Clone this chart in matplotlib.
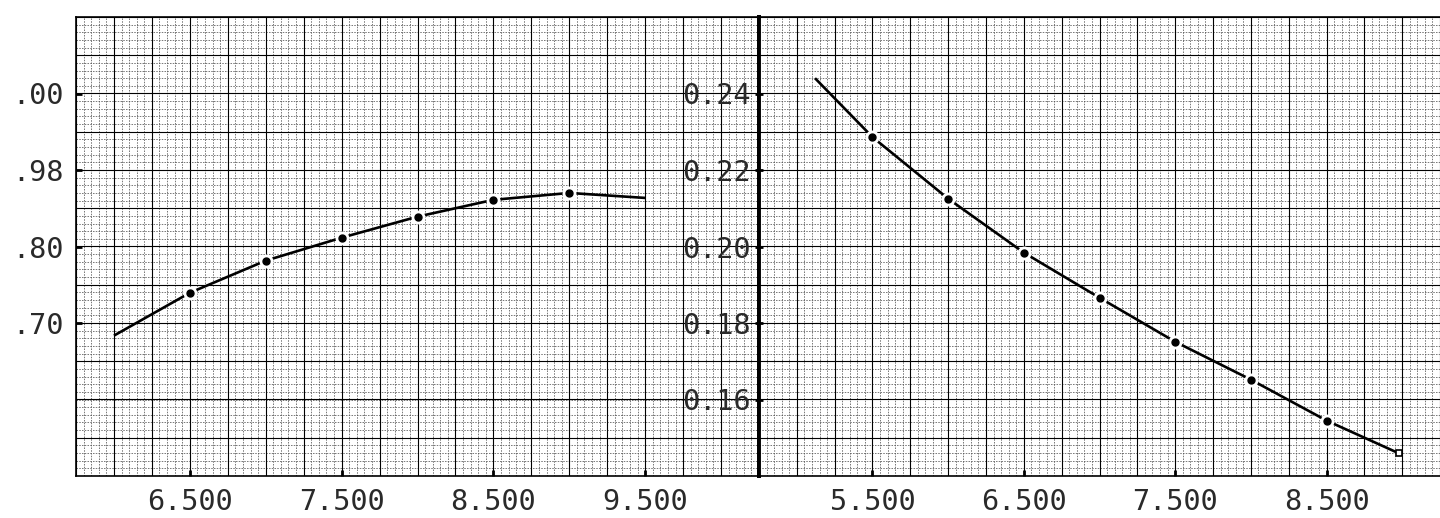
import numpy as np
import matplotlib
matplotlib.use("Agg")
import matplotlib.pyplot as plt
from matplotlib.ticker import MultipleLocator, FixedLocator

# ---- data ----
left_x = [6.0, 6.5, 7.0, 7.5, 8.0, 8.5, 9.0, 9.5]
left_y = [0.1767, 0.1879, 0.1963, 0.2023, 0.2078, 0.2122, 0.2140, 0.2127]

right_x = [5.12, 5.5, 6.0, 6.5, 7.0, 7.5, 8.0, 8.5, 8.98]
right_y = [0.2440, 0.2286, 0.2125, 0.1984, 0.1866, 0.1751, 0.1652, 0.1545, 0.1459]

left_xticks = [6.5, 7.5, 8.5, 9.5]
left_xlabels = ["6.500", "7.500", "8.500", "9.500"]
right_xticks = [5.5, 6.5, 7.5, 8.5]
right_xlabels = ["5.500", "6.500", "7.500", "8.500"]

left_yticks = [0.24, 0.22, 0.20, 0.18]
left_ylabels = [".00", ".98", ".80", ".70"]
right_yticks = [0.24, 0.22, 0.20, 0.18, 0.16]
right_ylabels = ["0.24", "0.22", "0.20", "0.18", "0.16"]

FONT = "DejaVu Sans Mono"
FS = 20.5
TXT = "#2a2a2a"

fig = plt.figure(figsize=(14.4, 5.18), dpi=100)
W, H = 1440, 518
ax1 = fig.add_axes([76 / W, 42 / H, 683 / W, 459 / H])
ax2 = fig.add_axes([759 / W, 42 / H, 681 / W, 459 / H])


def style_grid(ax, xlim):
    ax.set_xlim(*xlim)
    ax.set_ylim(0.14, 0.26)
    ax.xaxis.set_minor_locator(MultipleLocator(0.05))
    ax.yaxis.set_minor_locator(MultipleLocator(0.002))
    ax.grid(which="minor", color="#555555", linestyle=(0, (2.0, 1.6)), linewidth=0.55)
    ax.set_axisbelow(True)
    for v in np.arange(xlim[0], xlim[1] + 1e-9, 0.25):
        ax.axvline(v, color="black", linewidth=0.8, zorder=1)
    for v in np.arange(0.14, 0.26 + 1e-9, 0.01):
        ax.axhline(v, color="black", linewidth=0.8, zorder=1)
    ax.tick_params(which="minor", length=0)
    for s in ax.spines.values():
        s.set_linewidth(1.2)


style_grid(ax1, (5.75, 10.25))
style_grid(ax2, (4.75, 9.25))
ax2.spines["right"].set_visible(False)
ax2.spines["left"].set_linewidth(2.8)
ax1.spines["right"].set_linewidth(2.8)


def draw_curve(ax, xs, ys, end_square):
    ax.plot(xs, ys, color="black", linewidth=1.9, solid_capstyle="butt", zorder=3)
    ax.plot(xs[1:-1], ys[1:-1], linestyle="none", marker="o", markersize=9,
            markerfacecolor="white", markeredgecolor="white", zorder=4)
    ax.plot(xs[1:-1], ys[1:-1], linestyle="none", marker="o", markersize=5,
            markerfacecolor="black", markeredgecolor="black", zorder=5)
    if end_square:
        ax.plot([xs[-1]], [ys[-1]], linestyle="none", marker="s", markersize=4,
                markerfacecolor="white", markeredgecolor="black", markeredgewidth=1.2, zorder=5)


draw_curve(ax1, left_x, left_y, False)
draw_curve(ax2, right_x, right_y, True)

for ax, xt, xl in ((ax1, left_xticks, left_xlabels), (ax2, right_xticks, right_xlabels)):
    ax.xaxis.set_major_locator(FixedLocator(xt))
    ax.set_xticklabels(xl)
    ax.tick_params(axis="x", which="major", length=4, width=2, direction="in",
                   labelsize=FS, pad=9, labelcolor=TXT)
    for lab in ax.get_xticklabels():
        lab.set_fontfamily(FONT)

ax1.yaxis.set_major_locator(FixedLocator(left_yticks))
ax1.set_yticklabels(left_ylabels)
ax1.tick_params(axis="y", which="major", length=4, width=2, direction="in",
                labelsize=FS, pad=9, labelcolor=TXT)
for lab in ax1.get_yticklabels():
    lab.set_fontfamily(FONT)

ax2.yaxis.set_major_locator(FixedLocator(right_yticks))
ax2.set_yticklabels(right_ylabels)
ax2.tick_params(axis="y", which="major", length=6, width=2, direction="inout",
                labelsize=FS, pad=3, labelcolor=TXT)
for lab in ax2.get_yticklabels():
    lab.set_fontfamily(FONT)

fig.savefig("out.png", dpi=100)
